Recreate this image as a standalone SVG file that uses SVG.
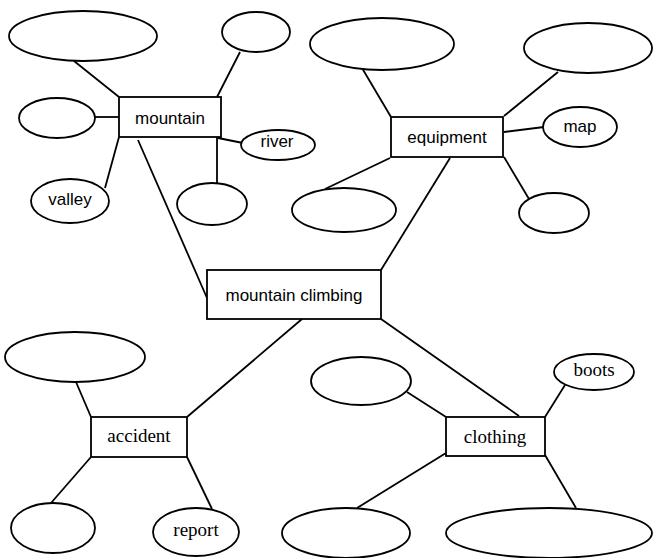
<svg xmlns="http://www.w3.org/2000/svg" width="653" height="558" viewBox="0 0 653 558">
<style>
.s{fill:#fff;stroke:#000;stroke-width:1.8}
.c line{stroke:#000;stroke-width:1.8}
.t{font-family:"Liberation Sans",Arial,sans-serif;font-size:17px;text-anchor:middle;fill:#000}
.r{font-family:"Liberation Serif","Times New Roman",serif;font-size:19px;text-anchor:middle;fill:#000}
</style>
<rect width="653" height="558" fill="#fff"/>
<g class="c">
<line x1="74" y1="61" x2="119" y2="97"/>
<line x1="240" y1="52" x2="217" y2="97"/>
<line x1="94" y1="117" x2="119" y2="117"/>
<line x1="105" y1="188" x2="119" y2="137"/>
<line x1="218" y1="138" x2="243" y2="143"/>
<line x1="217" y1="137" x2="217" y2="183"/>
<line x1="138" y1="140" x2="207" y2="298"/>
<line x1="362" y1="68" x2="391" y2="117"/>
<line x1="558" y1="72" x2="504" y2="116"/>
<line x1="504" y1="132" x2="544" y2="127"/>
<line x1="390" y1="158" x2="325" y2="189"/>
<line x1="504" y1="157" x2="529" y2="199"/>
<line x1="450" y1="158" x2="381" y2="270"/>
<line x1="302" y1="319" x2="187" y2="417"/>
<line x1="381" y1="319" x2="519" y2="416"/>
<line x1="76" y1="382" x2="91" y2="417"/>
<line x1="91" y1="457" x2="51" y2="503"/>
<line x1="187" y1="457" x2="212" y2="509"/>
<line x1="407" y1="392" x2="446" y2="417"/>
<line x1="565" y1="385" x2="545" y2="417"/>
<line x1="446" y1="453" x2="357" y2="508"/>
<line x1="545" y1="455" x2="576" y2="508"/>
</g>
<g id="mountain"><rect class="s" x="119" y="97" width="102" height="40"/><text class="t" x="170" y="124">mountain</text></g>
<g id="m-a1"><ellipse class="s" cx="83" cy="36" rx="74" ry="25"/></g>
<g id="m-a2"><ellipse class="s" cx="256" cy="32" rx="34" ry="20"/></g>
<g id="m-a3"><ellipse class="s" cx="57" cy="118" rx="38" ry="20"/></g>
<g id="river"><ellipse class="s" cx="278" cy="145" rx="37" ry="15"/><text class="t" x="277" y="147">river</text></g>
<g id="valley"><ellipse class="s" cx="70" cy="201" rx="39" ry="22"/><text class="t" x="70" y="205">valley</text></g>
<g id="m-a4"><ellipse class="s" cx="212" cy="204" rx="35" ry="21"/></g>
<g id="equipment"><rect class="s" x="391" y="117" width="112" height="40"/><text class="t" x="447" y="143">equipment</text></g>
<g id="e-a1"><ellipse class="s" cx="382" cy="44" rx="72" ry="26"/></g>
<g id="e-a2"><ellipse class="s" cx="588" cy="48" rx="64" ry="25"/></g>
<g id="map"><ellipse class="s" cx="580" cy="127" rx="37" ry="20"/><text class="t" x="580" y="132">map</text></g>
<g id="e-a3"><ellipse class="s" cx="344" cy="210" rx="52" ry="22"/></g>
<g id="e-a4"><ellipse class="s" cx="554" cy="213" rx="35" ry="20"/></g>
<g id="mountain-climbing"><rect class="s" x="207" y="270" width="174" height="49"/><text class="t" x="294" y="301">mountain climbing</text></g>
<g id="accident"><rect class="s" x="91" y="417" width="96" height="40"/><text class="r" x="139" y="442">accident</text></g>
<g id="a-a1"><ellipse class="s" cx="75" cy="357" rx="70" ry="25"/></g>
<g id="a-a2"><ellipse class="s" cx="53" cy="528" rx="42" ry="25"/></g>
<g id="report"><ellipse class="s" cx="196" cy="532" rx="43" ry="24"/><text class="r" x="196" y="536">report</text></g>
<g id="clothing"><rect class="s" x="446" y="417" width="99" height="39"/><text class="r" x="495" y="443">clothing</text></g>
<g id="c-a1"><ellipse class="s" cx="361" cy="381" rx="50" ry="24"/></g>
<g id="boots"><ellipse class="s" cx="594" cy="372" rx="40" ry="18"/><text class="r" x="594" y="376">boots</text></g>
<g id="c-a2"><ellipse class="s" cx="346" cy="533" rx="64" ry="25"/></g>
<g id="c-a3"><ellipse class="s" cx="549" cy="533" rx="103" ry="25"/></g>
</svg>
